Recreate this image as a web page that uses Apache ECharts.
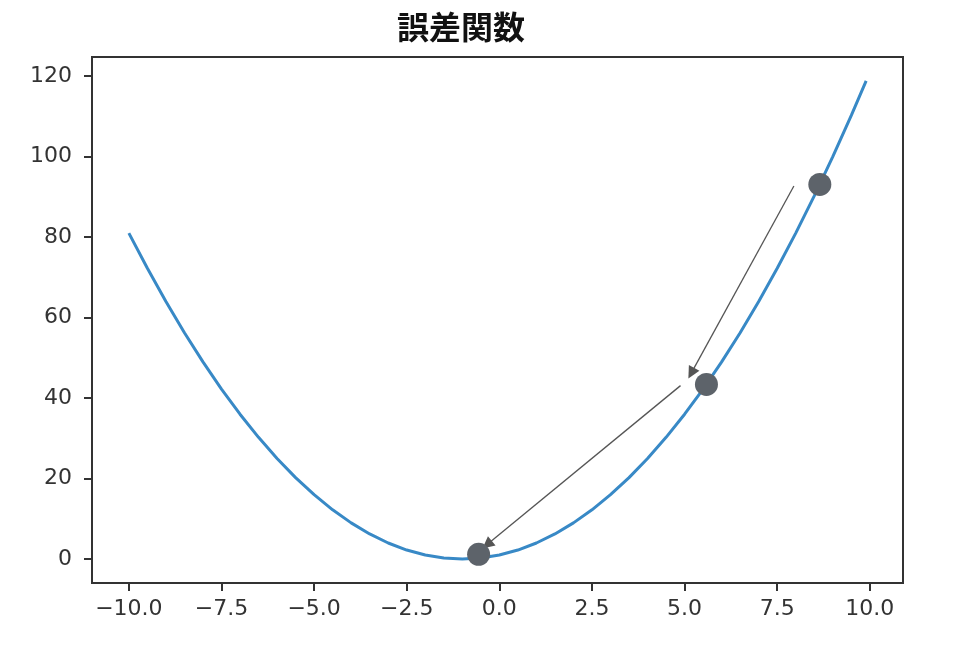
<!DOCTYPE html>
<html>
<head>
<meta charset="utf-8">
<script src="https://cdn.jsdelivr.net/npm/echarts@6/dist/echarts.min.js"></script>
<style>html,body{margin:0;padding:0;background:#fff}#c{width:976px;height:646px}</style>
</head>
<body>
<div id="c"></div>
<script>
// Curve points
const curveX = [-10,-9.5,-9,-8.5,-8,-7.5,-7,-6.5,-6,-5.5,-5,-4.5,-4,-3.5,-3,-2.5,-2,-1.5,-1,-0.5,0,0.5,1,1.5,2,2.5,3,3.5,4,4.5,5,5.5,6,6.5,7,7.5,8,8.5,9,9.5,9.9];
const curveY = [81,72.25,64,56.25,49,42.25,36,30.25,25,20.25,16,12.25,9,6.25,4,2.25,1,0.25,0,0.25,1,2.25,4,6.25,9,12.25,16,20.25,25,30.25,36,42.25,49,56.25,64,72.25,81,90.25,100,110.25,118.81];
// Gradient-descent points
const dotX = [8.65, 5.59, -0.56];
const dotY = [93.1, 43.4, 1.2];
// Arrows [x0,y0,x1,y1]
const arrows = [[7.95, 92.7, 5.18, 46.2], [4.89, 43.1, -0.33, 3.6]];
const xTicks = [-10, -7.5, -5, -2.5, 0, 2.5, 5, 7.5, 10];
const yTicks = [0, 20, 40, 60, 80, 100, 120];
const titleText = '誤差関数';

const chart = echarts.init(document.getElementById('c'));
const fmt = v => { const s = Math.abs(v).toFixed(1); return v < 0 ? '\u2212' + s : s; };
chart.setOption({
  animation: false,
  title: {
    text: titleText, left: 392, top: 6,
    textStyle: { fontFamily: 'Noto Sans CJK JP', fontSize: 32, fontWeight: 'bold', color: '#111' }
  },
  grid: { left: 92, right: 73, top: 57, bottom: 63, show: true, borderColor: '#333', borderWidth: 2 },
  xAxis: {
    type: 'value', min: -10.995, max: 10.895,
    axisLine: { show: true, onZero: false, lineStyle: { color: '#333', width: 2 } },
    axisTick: { show: true, length: 8, lineStyle: { color: '#333', width: 2 }, customValues: xTicks },
    axisLabel: { customValues: xTicks, formatter: fmt, fontFamily: 'DejaVu Sans', fontSize: 22, color: '#333', margin: 15 },
    splitLine: { show: false }
  },
  yAxis: {
    type: 'value', min: -5.94, max: 124.75,
    axisLine: { show: true, onZero: false, lineStyle: { color: '#333', width: 2 } },
    axisTick: { show: true, length: 8, lineStyle: { color: '#333', width: 2 }, customValues: yTicks },
    axisLabel: { customValues: yTicks, formatter: v => String(v), fontFamily: 'DejaVu Sans', fontSize: 22, color: '#333', margin: 20 },
    splitLine: { show: false }
  },
  series: [
    {
      type: 'line', data: curveX.map((x, i) => [x, curveY[i]]), showSymbol: false,
      lineStyle: { color: '#3889c6', width: 3 }, z: 2
    },
    {
      type: 'lines', coordinateSystem: 'cartesian2d',
      data: arrows.map(a => ({ coords: [[a[0], a[1]], [a[2], a[3]]] })),
      symbol: ['none', 'triangle'], symbolSize: 12,
      lineStyle: { color: '#555', width: 1.3, opacity: 1 }, z: 3
    },
    {
      type: 'scatter', data: dotX.map((x, i) => [x, dotY[i]]), symbolSize: 23,
      itemStyle: { color: '#5d636a', opacity: 1 }, z: 4
    }
  ]
});
</script>
</body>
</html>
